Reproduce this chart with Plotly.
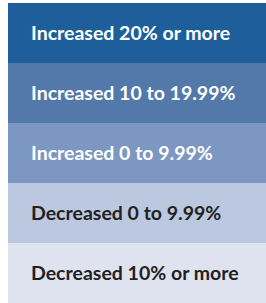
import plotly.graph_objects as go

categories = ["Increased 20% or more", "Increased 10 to 19.99%", "Increased 0 to 9.99%",
              "Decreased 0 to 9.99%", "Decreased 10% or more"]
values = [1, 1, 1, 1, 1]
colors = ["#1e5f9b", "#5378aa", "#7b97c2", "#bcc8e0", "#dfe3ef"]
text_colors = ["#ffffff", "#ffffff", "#ffffff", "#231f20", "#231f20"]

fig = go.Figure(go.Bar(
    x=values, y=categories, orientation="h",
    marker=dict(color=colors, line=dict(width=0)),
    hoverinfo="skip",
))

for cat, tc in zip(categories, text_colors):
    fig.add_annotation(
        x=0, y=cat, xref="x", yref="y", text=cat, showarrow=False,
        xanchor="left", yanchor="middle", xshift=21, yshift=1,
        font=dict(family="Lato", size=19.5, color=tc, weight=700),
    )

fig.update_layout(
    width=266, height=303,
    margin=dict(l=8, r=0, t=3, b=0),
    paper_bgcolor="white", plot_bgcolor="white",
    bargap=0, showlegend=False,
    xaxis=dict(visible=False, range=[0, 1], fixedrange=True),
    yaxis=dict(visible=False, autorange="reversed", fixedrange=True),
)

fig.write_html("out.html", config={"displayModeBar": False},
               post_script="document.body.style.margin='0';document.body.style.overflow='hidden';")
